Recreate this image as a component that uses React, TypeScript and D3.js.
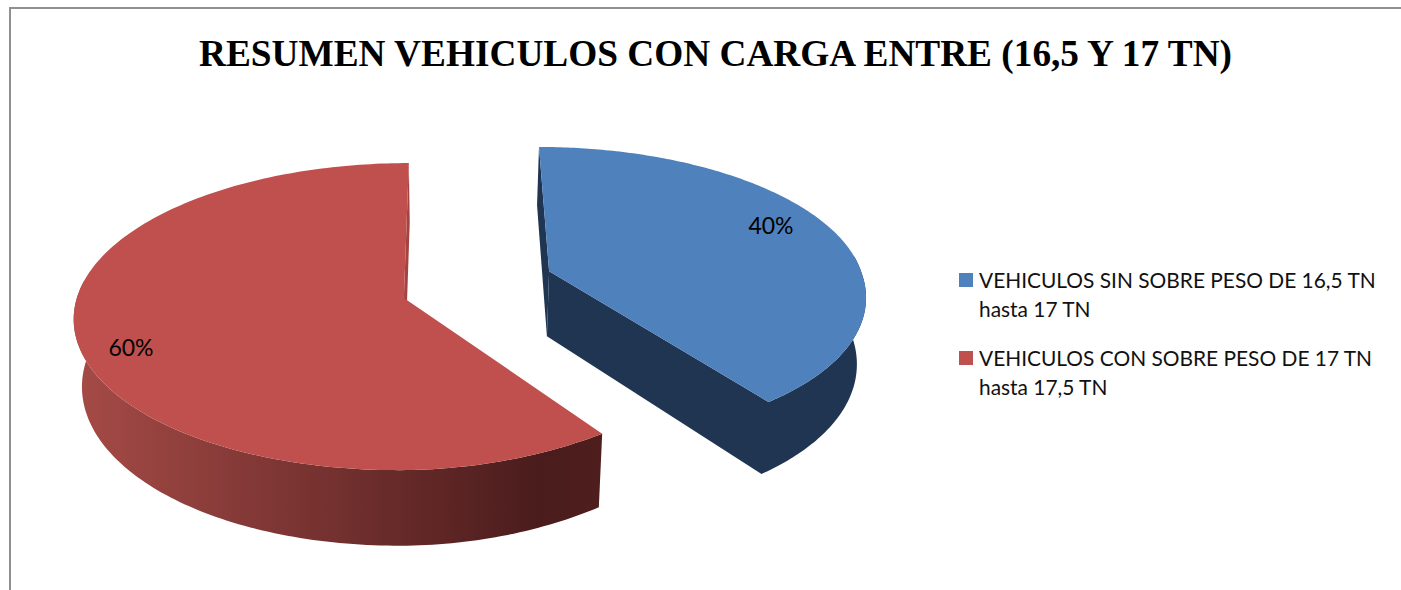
import React from "react";
import * as d3 from "d3";

const title = "RESUMEN VEHICULOS CON CARGA ENTRE (16,5 Y 17 TN)";
const categories = ["VEHICULOS SIN SOBRE PESO DE 16,5 TN", "VEHICULOS CON SOBRE PESO DE 17 TN"];
const categoryLines2 = ["hasta 17 TN", "hasta 17,5 TN"];
const values = [40, 60];
const percentLabels = ["40%", "60%"];
const topColors = ["#4F81BD", "#C0504D"];
const wallColors = ["#1F3552", "#A54341"];

// Perspective model: ground plane (X right, z depth), one vanishing line
const horizonY = -950, vpX = 450, A = 10296, B = 2739, H = 548, nadir = 0.978;
const project = (X: number, z: number, bottom = false) => [
  vpX + (bottom ? nadir : 1) * (B * X) / z,
  horizonY + (A + (bottom ? H : 0)) / z,
];
const centres = [
  { X: 0.305, z: 8.43, rx: 0.96, front: 1.007, back: 0.956, shear: -0.02, narrow: 0 },
  { X: -0.139, z: 8.25, rx: 0.985, front: 1, back: 1, shear: 0, narrow: 0.07 },
];

const arcs = d3.pie<number>().sort(null).startAngle(0).endAngle(2 * Math.PI)(values);

function rimPoint(i: number, t: number, bottom = false) {
  const c = centres[i];
  const cos = Math.cos(t), sin = Math.sin(t);
  const dz = cos >= 0 ? c.back * cos : c.front * cos;
  const sh = dz < 0 ? c.shear * dz : 0;
  const narrowing = cos < 0 && sin > 0 ? 1 - c.narrow * cos * cos : 1;
  return project(c.X + c.rx * sin * narrowing + sh, c.z + dz, bottom);
}
function angles(i: number, n = 200) {
  const a = arcs[i];
  return d3.range(n + 1).map((k) => a.startAngle + ((a.endAngle - a.startAngle) * k) / n);
}
const line = d3.line();

function Slice({ i }: { i: number }) {
  const c = centres[i];
  const a = arcs[i];
  const ts = angles(i);
  const top = ts.map((t) => rimPoint(i, t));
  // the outer wall is only seen on the side turned towards the viewer
  const seen = ts.filter((t) => Math.cos(t) < 0.12);
  const wallTop = seen.map((t) => rimPoint(i, t));
  const wallBot = seen.map((t) => rimPoint(i, t, true));
  const apex = project(c.X, c.z), apexB = project(c.X, c.z, true);
  const startT = top[0], startB = rimPoint(i, a.startAngle, true);
  const endT = top[top.length - 1], endB = rimPoint(i, a.endAngle, true);
  // radial wall facing the gap at 12 o'clock
  const gapWall = i === 0 ? [startT, apex, apexB, startB] : [endT, apex, apexB, endB];
  // blue: outer wall and front radial wall form one dark shape; red: outer wall only
  const outline =
    i === 0
      ? [apex, apexB, ...wallBot.slice().reverse(), ...wallTop]
      : [...wallTop, ...wallBot.slice().reverse()];
  return (
    <g data-value={a.value}>
      <path d={line(gapWall as any) + "Z"} fill={wallColors[i]} />
      <path d={line(outline as any) + "Z"} fill={i === 1 ? "url(#redWall)" : wallColors[0]} />
      <path d={line([apex, ...top] as any) + "Z"} fill={topColors[i]} />
    </g>
  );
}

export default function App() {
  const gradStops = d3.scaleLinear<string>().domain([80, 540, 600]).range(["#A54A46", "#4A1C1C", "#4E1E1D"]);
  return (
    <svg width={1401} height={590} style={{ position: "absolute", left: 0, top: 0, display: "block", background: "#fff" }}>
      <defs>
        <linearGradient id="redWall" gradientUnits="userSpaceOnUse" x1={80} x2={600} y1={0} y2={0}>
          {[80, 200, 320, 440, 540, 600].map((x) => (
            <stop key={x} offset={(x - 80) / 520} stopColor={gradStops(x)} />
          ))}
        </linearGradient>
      </defs>
      <path d="M10 590V8H1401" fill="none" stroke="#909090" strokeWidth={2} />
      <text x={715.5} y={66} textAnchor="middle" fontFamily="'Liberation Serif', serif" fontWeight="bold" fontSize={37.3} fill="#000">{title}</text>
      <Slice i={1} />
      <Slice i={0} />
      <text x={771} y={234} textAnchor="middle" fontFamily="Lato, sans-serif" fontSize={23} fill="#000">{percentLabels[0]}</text>
      <text x={131} y={356} textAnchor="middle" fontFamily="Lato, sans-serif" fontSize={23} fill="#000">{percentLabels[1]}</text>
      {categories.map((t, i) => {
        const y = 273 + i * 78;
        return (
          <g key={t}>
            <rect x={959} y={y} width={14} height={14} fill={topColors[i]} />
            <text x={979} y={y + 15} fontFamily="Lato, sans-serif" fontSize={20.9} fill="#111">{t}</text>
            <text x={979} y={y + 44} fontFamily="Lato, sans-serif" fontSize={20.9} fill="#111">{categoryLines2[i]}</text>
          </g>
        );
      })}
    </svg>
  );
}
